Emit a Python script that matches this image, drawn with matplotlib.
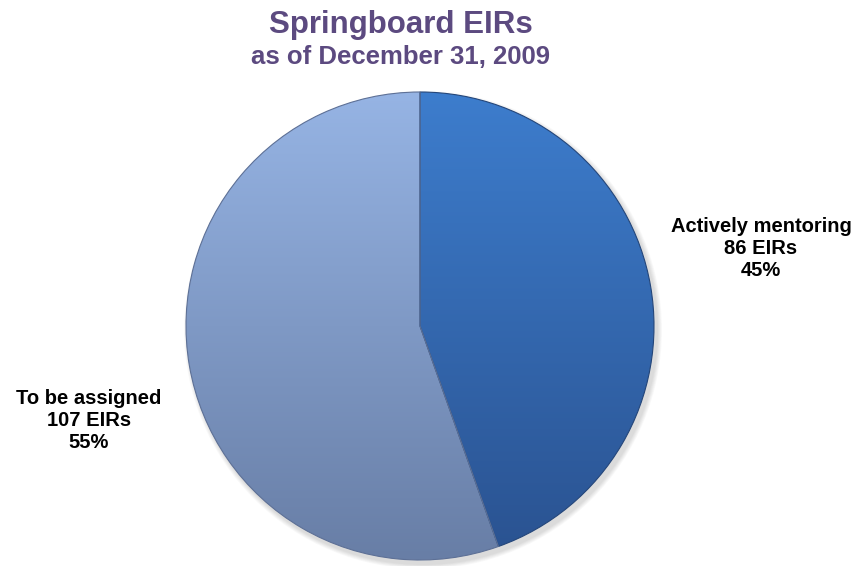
import numpy as np
import matplotlib.pyplot as plt
import matplotlib.colors as mcolors

categories = ["Actively mentoring", "To be assigned"]
counts = [86, 107]
percents = [45, 55]

# gradient colours per slice (top, bottom)
slice_colors = [("#3d7dcd", "#2a5290"), ("#96b4e4", "#687ea6")]

plt.rcParams['font.family'] = ['Liberation Sans', 'DejaVu Sans']

fig = plt.figure(figsize=(8.6, 5.66), dpi=100)
ax = fig.add_axes([0, 0, 1, 1])

cx, cy, r = 420, 566 - 326, 234

# soft shadow
for k in range(6):
    ax.add_patch(plt.Circle((cx + 3, cy - 4), r + 1 + k * 0.8, color='black',
                            alpha=0.025, lw=0, zorder=0))

wedges, _ = ax.pie(counts, center=(cx, cy), radius=r, startangle=90,
                   counterclock=False, frame=True,
                   wedgeprops=dict(linewidth=0.8, edgecolor='#2c4f80'))
ax.set_xlim(0, 860)
ax.set_ylim(0, 566)
ax.set_aspect('equal')
ax.axis('off')

grad = np.linspace(0, 1, 256).reshape(-1, 1)
for w, (top, bottom) in zip(wedges, slice_colors):
    w.set_facecolor('none')
    cmap = mcolors.LinearSegmentedColormap.from_list('g', [top, bottom])
    im = ax.imshow(grad, extent=(cx - r, cx + r, cy - r, cy + r), cmap=cmap,
                   aspect='auto', origin='upper', zorder=1)
    im.set_clip_path(w)
    w.set_zorder(2)

wedges[0].set_edgecolor('#24467a')
wedges[1].set_edgecolor('#5d7096')

label_pos = [(761, 566 - 249), (89, 566 - 420)]
for name, n, p, (x, y) in zip(categories, counts, percents, label_pos):
    ax.text(x, y, f"{name}\n{n} EIRs\n{p}%", ha='center', va='center',
            fontsize=14.5, fontweight='bold', color='black', linespacing=1.2)

fig.text(0.466, 1 - 25 / 566, "Springboard EIRs", ha='center', va='center',
         fontsize=22.5, fontweight='bold', color='#5c4a80')
fig.text(0.466, 1 - 57 / 566, "as of December 31, 2009", ha='center',
         va='center', fontsize=18.5, fontweight='bold', color='#5c4a80')

fig.savefig("out.png", dpi=100)
